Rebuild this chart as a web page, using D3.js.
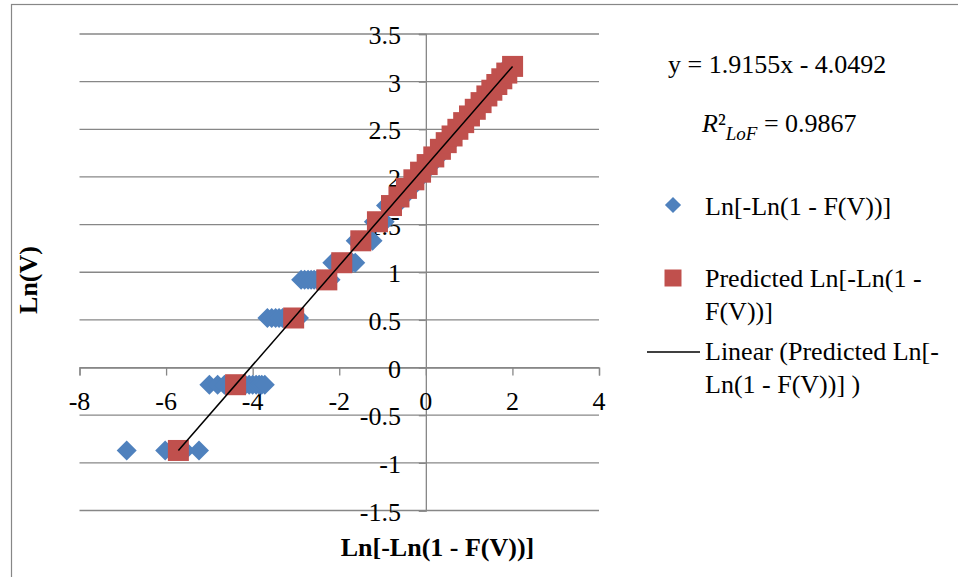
<!DOCTYPE html>
<html>
<head>
<meta charset="utf-8">
<script src="https://cdn.jsdelivr.net/npm/d3@7"></script>
<style>
body { margin: 0; background: #fff; }
text { font-family: "Times New Roman", "Liberation Serif", serif; fill: #000; }
</style>
</head>
<body>
<svg id="chart" width="958" height="577"></svg>
<script>
// distinct Ln(V) levels
var lnV = [-0.87, -0.18, 0.52, 0.92, 1.10, 1.33, 1.53, 1.70, 1.79, 1.88, 1.97, 2.05, 2.13, 2.21,
           2.29, 2.36, 2.43, 2.50, 2.57, 2.64, 2.71, 2.78, 2.85, 2.91, 2.97, 3.03, 3.09, 3.16];

// red squares: predicted Ln[-Ln(1 - F(V))] at each level
var predictedX = [-5.716, -4.394, -3.053, -2.287, -1.942, -1.502, -1.118, -0.793, -0.621, -0.448,
                  -0.276, -0.122, 0.031, 0.184, 0.337, 0.471, 0.606, 0.740, 0.874, 1.008, 1.142,
                  1.276, 1.410, 1.525, 1.640, 1.755, 1.870, 2.004];

// blue diamonds: observed Ln[-Ln(1 - F(V))] at each level
var observedX = [
  [-6.91, -6.02, -5.56, -5.24],
  [-5.00, -4.81, -4.65, -4.51, -4.38, -4.27, -4.17, -4.08, -4.00, -3.92, -3.85, -3.79, -3.72],
  [-3.66, -3.56, -3.47, -3.39, -3.31, -3.24, -3.17, -3.10, -3.04, -2.98, -2.93],
  [-2.88, -2.80, -2.72, -2.65, -2.58, -2.51, -2.44, -2.38, -2.32, -2.26, -2.20],
  [-2.16, -2.08, -2.00, -1.92, -1.84, -1.77, -1.70, -1.63],
  [-1.62, -1.55, -1.48, -1.41, -1.35, -1.29, -1.23],
  [-1.20, -1.13, -1.07, -1.01, -0.95],
  [-0.92, -0.86, -0.80, -0.74, -0.68],
  [-0.65, -0.58, -0.51],
  [-0.48, -0.41, -0.34],
  [-0.31, -0.24, -0.17],
  [-0.15, -0.08, -0.02],
  [0.00, 0.07, 0.14],
  [0.16, 0.22, 0.29],
  [0.31, 0.37, 0.43],
  [0.45, 0.51, 0.57],
  [0.59, 0.65, 0.70],
  [0.72, 0.78, 0.83],
  [0.85, 0.91, 0.96],
  [0.98, 1.04, 1.09],
  [1.11, 1.17, 1.22],
  [1.24, 1.29, 1.34],
  [1.36, 1.41, 1.46],
  [1.48, 1.53, 1.57],
  [1.59, 1.64, 1.68],
  [1.70, 1.74, 1.78],
  [1.80, 1.84, 1.87],
  [1.89, 1.94, 1.99]
];

var xTicks = [-8, -6, -4, -2, 0, 2, 4];
var yTicks = [-1.5, -1, -0.5, 0, 0.5, 1, 1.5, 2, 2.5, 3, 3.5];
var equationText = "y = 1.9155x - 4.0492";
var r2Value = "0.9867";
var legendLabels = [
  ["Ln[-Ln(1 - F(V))]"],
  ["Predicted Ln[-Ln(1 -", "F(V))]"],
  ["Linear (Predicted Ln[-", "Ln(1 - F(V))] )"]
];

var blue = "#4F81BD", red = "#C0504D", gridColor = "#878787";
var svg = d3.select("#chart");

// outer chart frame (only left and top edges fall inside the picture)
svg.append("rect").attr("x", 11.5).attr("y", 4.5).attr("width", 1000).attr("height", 700)
  .attr("fill", "none").attr("stroke", gridColor).attr("stroke-width", 1.2);

var x = d3.scaleLinear().domain([-8, 4]).range([79.5, 599]);
var y = d3.scaleLinear().domain([-1.5, 3.5]).range([510.5, 34]);

// horizontal gridlines
svg.append("g").selectAll("line").data(yTicks).join("line")
  .attr("x1", x(-8)).attr("x2", x(4))
  .attr("y1", function(d) { return y(d); }).attr("y2", function(d) { return y(d); })
  .attr("stroke", gridColor).attr("stroke-width", 1.3);

// vertical axis at x = 0
var yAxis = svg.append("g").attr("transform", "translate(" + x(0) + ",0)")
  .call(d3.axisLeft(y).tickValues(yTicks).tickSize(7).tickFormat(""));
yAxis.select(".domain").attr("stroke", gridColor).attr("stroke-width", 1.3);
yAxis.selectAll(".tick line").attr("stroke", gridColor).attr("stroke-width", 1.3);

// horizontal axis at y = 0
var xAxis = svg.append("g").attr("transform", "translate(0," + y(0) + ")")
  .call(d3.axisBottom(x).tickValues(xTicks).tickSizeInner(8).tickSizeOuter(8).tickFormat(""));
xAxis.select(".domain").attr("stroke", gridColor).attr("stroke-width", 1.3);
xAxis.selectAll(".tick line").attr("stroke", gridColor).attr("stroke-width", 1.3);

// tick labels
svg.append("g").selectAll("text").data(yTicks).join("text")
  .attr("x", 401).attr("y", function(d) { return y(d) + 10; })
  .attr("text-anchor", "end").attr("font-size", 26)
  .text(function(d) { return String(d); });

svg.append("g").selectAll("text").data(xTicks).join("text")
  .attr("x", function(d) { return x(d); }).attr("y", 410)
  .attr("text-anchor", "middle").attr("font-size", 26)
  .text(function(d) { return String(d); });

// observed points
var obsPoints = [];
observedX.forEach(function(row, i) {
  row.forEach(function(v) { obsPoints.push({x: v, y: lnV[i]}); });
});
var diamond = d3.symbol().type(d3.symbolSquare).size(200);
svg.append("g").selectAll("path").data(obsPoints).join("path")
  .attr("d", diamond)
  .attr("transform", function(d) { return "translate(" + x(d.x) + "," + y(d.y) + ") rotate(45)"; })
  .attr("fill", blue);

// predicted points
var square = d3.symbol().type(d3.symbolSquare).size(441);
svg.append("g").selectAll("path").data(predictedX).join("path")
  .attr("d", square)
  .attr("transform", function(d, i) { return "translate(" + x(d) + "," + y(lnV[i]) + ")"; })
  .attr("fill", red);

// linear trendline through the predicted series
var n = predictedX.length - 1;
var trendPts = [[predictedX[0], lnV[0]], [predictedX[n], lnV[n]]];
svg.append("path").datum(trendPts)
  .attr("d", d3.line().x(function(d) { return x(d[0]); }).y(function(d) { return y(d[1]); }))
  .attr("stroke", "#000").attr("stroke-width", 1.5).attr("fill", "none");

// axis titles
svg.append("text").attr("x", 437.5).attr("y", 556).attr("text-anchor", "middle")
  .attr("font-size", 26).attr("font-weight", "bold").text("Ln[-Ln(1 - F(V))]");
svg.append("text").attr("transform", "translate(37,280) rotate(-90)").attr("text-anchor", "middle")
  .attr("font-size", 26).attr("font-weight", "bold").text("Ln(V)");

// trendline equation and R squared
svg.append("text").attr("x", 668).attr("y", 73).attr("font-size", 26).text(equationText);
var r2 = svg.append("text").attr("x", 702).attr("y", 132).attr("font-size", 26);
r2.append("tspan").attr("font-style", "italic").text("R");
r2.append("tspan").text("²");
r2.append("tspan").attr("font-style", "italic").attr("font-size", 19).attr("dy", 8).text("LoF");
r2.append("tspan").attr("dy", -8).text(" = " + r2Value);

// legend
var legend = svg.append("g");
legend.append("path").attr("d", d3.symbol().type(d3.symbolSquare).size(130))
  .attr("transform", "translate(673,205) rotate(45)").attr("fill", blue);
legend.append("path").attr("d", d3.symbol().type(d3.symbolSquare).size(289))
  .attr("transform", "translate(673,278)").attr("fill", red);
legend.append("line").attr("x1", 647).attr("x2", 700).attr("y1", 352).attr("y2", 352)
  .attr("stroke", "#000").attr("stroke-width", 1.5);

var legendY = [215, 287, 360];
legendLabels.forEach(function(lines, i) {
  lines.forEach(function(s, j) {
    legend.append("text").attr("x", 705).attr("y", legendY[i] + j * 33)
      .attr("font-size", 26).text(s);
  });
});
</script>
</body>
</html>
